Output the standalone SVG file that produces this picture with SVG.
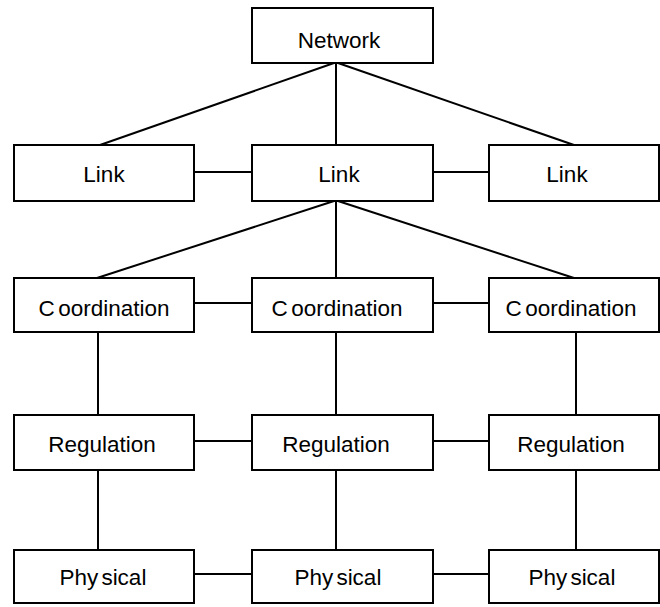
<svg xmlns="http://www.w3.org/2000/svg" width="660" height="607" viewBox="0 0 660 607">
  <style>
    .box { fill: #fff; stroke: #000; stroke-width: 2; }
    .lbl { font-family: "Liberation Sans", Arial, sans-serif; font-size: 22.5px; fill: #000; text-anchor: middle; }
    .edge { stroke: #000; stroke-width: 2; fill: none; }
  </style>
  <rect width="660" height="607" fill="#fff"/>

  <!-- connectors -->
  <g id="connectors" class="edge">
    <!-- network to links -->
    <line x1="334" y1="63" x2="100" y2="145"/>
    <line x1="336" y1="63" x2="336" y2="145"/>
    <line x1="338" y1="63" x2="574" y2="145"/>
    <!-- link row -->
    <line x1="192" y1="172" x2="252" y2="172"/>
    <line x1="432" y1="172" x2="489" y2="172"/>
    <!-- middle link to coordination -->
    <line x1="334" y1="201" x2="97" y2="278"/>
    <line x1="336" y1="201" x2="336" y2="278"/>
    <line x1="338" y1="201" x2="574" y2="278"/>
    <!-- coordination row -->
    <line x1="192" y1="303" x2="252" y2="303"/>
    <line x1="432" y1="303" x2="489" y2="303"/>
    <!-- coordination to regulation -->
    <line x1="98" y1="332" x2="98" y2="415"/>
    <line x1="336" y1="332" x2="336" y2="415"/>
    <line x1="576" y1="332" x2="576" y2="415"/>
    <!-- regulation row -->
    <line x1="192" y1="441" x2="252" y2="441"/>
    <line x1="432" y1="441" x2="489" y2="441"/>
    <!-- regulation to physical -->
    <line x1="98" y1="470" x2="98" y2="550"/>
    <line x1="336" y1="470" x2="336" y2="550"/>
    <line x1="576" y1="470" x2="576" y2="550"/>
    <!-- physical row -->
    <line x1="192" y1="574" x2="252" y2="574"/>
    <line x1="432" y1="574" x2="489" y2="574"/>
  </g>

  <g id="network">
    <rect class="box" x="252" y="8" width="181" height="55"/>
    <text class="lbl" x="339" y="48">Network</text>
  </g>

  <g id="link-left">
    <rect class="box" x="14" y="145" width="180" height="56"/>
    <text class="lbl" x="104" y="182">Link</text>
  </g>
  <g id="link-mid">
    <rect class="box" x="252" y="145" width="181" height="56"/>
    <text class="lbl" x="339" y="182">Link</text>
  </g>
  <g id="link-right">
    <rect class="box" x="489" y="145" width="170" height="56"/>
    <text class="lbl" x="567" y="182">Link</text>
  </g>

  <g id="coord-left">
    <rect class="box" x="14" y="278" width="180" height="54"/>
    <text class="lbl" x="104" y="316">C<tspan dx="3.5">oordination</tspan></text>
  </g>
  <g id="coord-mid">
    <rect class="box" x="252" y="278" width="181" height="54"/>
    <text class="lbl" x="337" y="316">C<tspan dx="3.5">oordination</tspan></text>
  </g>
  <g id="coord-right">
    <rect class="box" x="489" y="278" width="170" height="54"/>
    <text class="lbl" x="571" y="316">C<tspan dx="3.5">oordination</tspan></text>
  </g>

  <g id="reg-left">
    <rect class="box" x="14" y="415" width="180" height="55"/>
    <text class="lbl" x="102" y="452">Regulation</text>
  </g>
  <g id="reg-mid">
    <rect class="box" x="252" y="415" width="181" height="55"/>
    <text class="lbl" x="336" y="452">Regulation</text>
  </g>
  <g id="reg-right">
    <rect class="box" x="489" y="415" width="170" height="55"/>
    <text class="lbl" x="571" y="452">Regulation</text>
  </g>

  <g id="phys-left">
    <rect class="box" x="14" y="550" width="180" height="53"/>
    <text class="lbl" x="103" y="585">Phy<tspan dx="3">sical</tspan></text>
  </g>
  <g id="phys-mid">
    <rect class="box" x="252" y="550" width="181" height="53"/>
    <text class="lbl" x="338" y="585">Phy<tspan dx="3">sical</tspan></text>
  </g>
  <g id="phys-right">
    <rect class="box" x="489" y="550" width="170" height="53"/>
    <text class="lbl" x="572" y="585">Phy<tspan dx="3">sical</tspan></text>
  </g>
</svg>
